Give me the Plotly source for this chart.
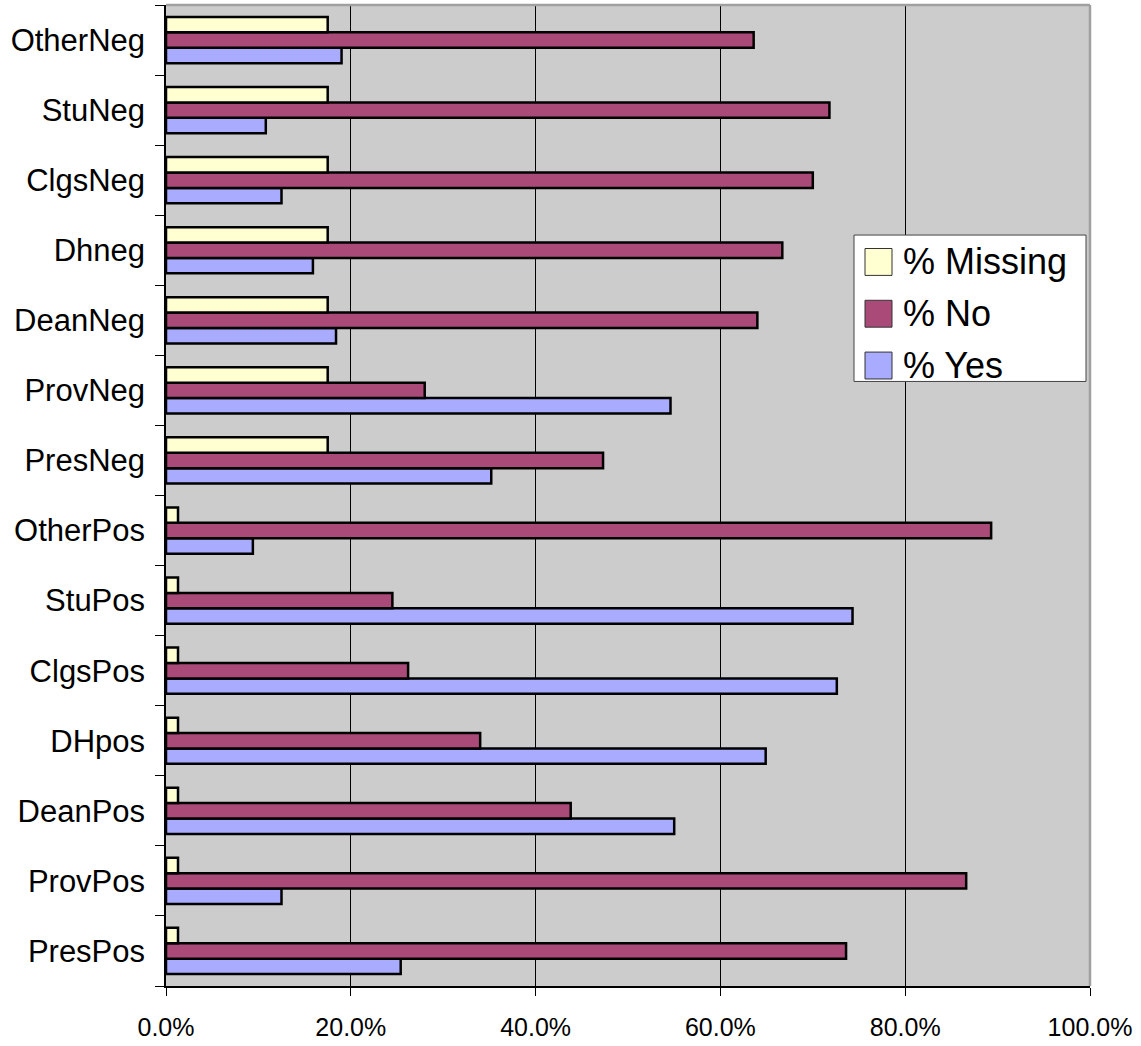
import plotly.graph_objects as go

# Survey categories, listed bottom to top
categories = ["PresPos", "ProvPos", "DeanPos", "DHpos", "ClgsPos", "StuPos", "OtherPos",
              "PresNeg", "ProvNeg", "DeanNeg", "Dhneg", "ClgsNeg", "StuNeg", "OtherNeg"]

pct_yes = [25.4, 12.5, 55.0, 64.9, 72.6, 74.3, 9.4,
           35.2, 54.6, 18.4, 15.9, 12.5, 10.8, 19.0]
pct_no = [73.6, 86.6, 43.8, 34.0, 26.2, 24.5, 89.3,
          47.3, 28.0, 64.0, 66.7, 70.0, 71.8, 63.6]
pct_missing = [1.3, 1.3, 1.3, 1.3, 1.3, 1.3, 1.3,
               17.5, 17.5, 17.5, 17.5, 17.5, 17.5, 17.5]

series_names = ["% Yes", "% No", "% Missing"]
series_values = [pct_yes, pct_no, pct_missing]
series_colors = ["#A9ABFF", "#AA4A78", "#FFFFD2"]

x_ticks = [0, 20, 40, 60, 80, 100]
x_tick_labels = ["0.0%", "20.0%", "40.0%", "60.0%", "80.0%", "100.0%"]

FONT = "Liberation Sans, Arial, sans-serif"
W, H = 1141, 1046
L, R, T, B = 166, 51, 5, 56

fig = go.Figure()
for name, vals, col in zip(series_names, series_values, series_colors):
    fig.add_trace(go.Bar(
        y=categories, x=vals, name=name, orientation="h",
        marker=dict(color=col, line=dict(color="#000000", width=2.5)),
        showlegend=False,
    ))

plot_w = W - L - R
plot_h = H - T - B


def px_x(p):
    return (p - L) / plot_w


def px_y(p):
    return (H - B - p) / plot_h


shapes = [
    # grey frame on the top and right edges of the plot area
    dict(type="line", xref="paper", yref="paper", x0=0, x1=1, y0=1, y1=1,
         line=dict(color="#A0A0A0", width=2.5), layer="above"),
    dict(type="line", xref="paper", yref="paper", x0=1, x1=1, y0=0, y1=1,
         line=dict(color="#A0A0A0", width=2.5), layer="above"),
    # legend box
    dict(type="rect", xref="paper", yref="paper",
         x0=px_x(854), x1=px_x(1086), y0=px_y(383), y1=px_y(236),
         fillcolor="#FFFFFF", line=dict(color="#444444", width=1), layer="above"),
]
annotations = []

# legend entries, top to bottom: Missing, No, Yes
legend_rows = [(263, 2), (315, 1), (367, 0)]
for cy, idx in legend_rows:
    shapes.append(dict(
        type="rect", xref="paper", yref="paper",
        x0=px_x(865), x1=px_x(892), y0=px_y(cy + 13.5), y1=px_y(cy - 13.5),
        fillcolor=series_colors[idx], line=dict(color="#333333", width=1), layer="above"))
    annotations.append(dict(
        xref="paper", yref="paper", x=px_x(901), y=px_y(cy),
        xanchor="left", yanchor="middle", showarrow=False,
        text=series_names[idx], font=dict(family=FONT, size=36, color="#000000")))

fig.update_layout(
    width=W, height=H,
    margin=dict(l=L, r=R, t=T, b=B, pad=0),
    paper_bgcolor="#FFFFFF",
    plot_bgcolor="#CCCCCC",
    barmode="group",
    bargap=0.34,
    bargroupgap=0,
    shapes=shapes,
    annotations=annotations,
    xaxis=dict(
        range=[0, 100], tickmode="array", tickvals=x_ticks, ticktext=x_tick_labels,
        showgrid=True, gridcolor="#000000", gridwidth=1, zeroline=False,
        showline=True, linecolor="#000000", linewidth=1.5,
        ticks="outside", ticklen=8, tickcolor="#000000", tickwidth=1,
        ticklabelstandoff=10,
        tickfont=dict(family=FONT, size=25, color="#000000"),
        fixedrange=True,
    ),
    yaxis=dict(
        type="category", categoryorder="array", categoryarray=categories,
        showgrid=False, zeroline=False,
        showline=True, linecolor="#000000", linewidth=1.5,
        ticks="outside", tickson="boundaries", ticklen=9,
        tickcolor="#000000", tickwidth=1,
        ticklabelstandoff=13,
        tickfont=dict(family=FONT, size=31, color="#000000"),
        fixedrange=True,
    ),
)

fig.write_html("out.html")
